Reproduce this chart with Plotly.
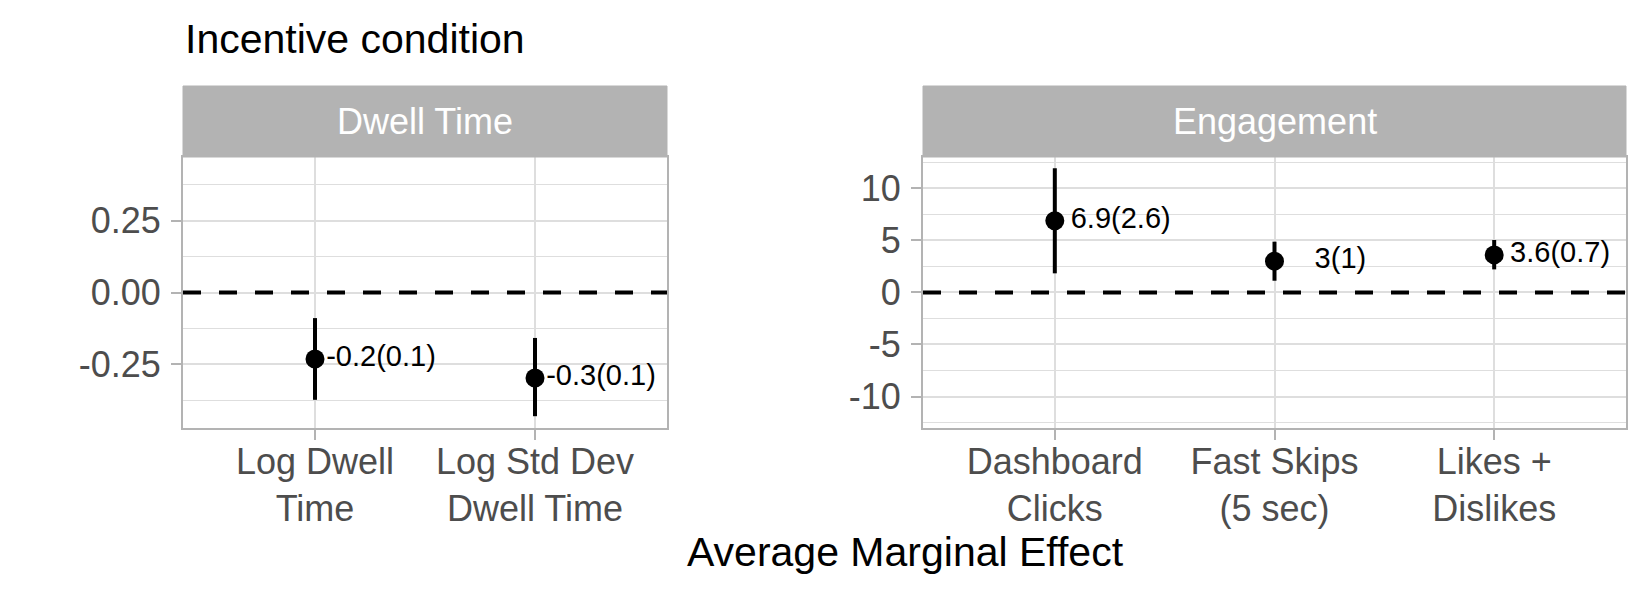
import plotly.graph_objects as go

# ── datos ─────────────────────────────────────────────────────────────────────
dwell_cats = ["Log Dwell<br>Time", "Log Std Dev<br>Dwell Time"]
dwell_est = [-0.231, -0.297]
dwell_lo = [-0.373, -0.430]
dwell_hi = [-0.089, -0.158]
dwell_lab = ["-0.2(0.1)", "-0.3(0.1)"]

eng_cats = ["Dashboard<br>Clicks", "Fast Skips<br>(5 sec)", "Likes +<br>Dislikes"]
eng_est = [6.88, 3.0, 3.6]
eng_lo = [1.83, 1.12, 2.21]
eng_hi = [11.92, 4.87, 5.03]
eng_lab = ["6.9(2.6)", "3(1)", "3.6(0.7)"]

dwell_ticks = [-0.25, 0.0, 0.25]
dwell_ticktext = ["-0.25", "0.00", "0.25"]
eng_ticks = [-10, -5, 0, 5, 10]
eng_ticktext = ["-10", "-5", "0", "5", "10"]

# ── estilo ────────────────────────────────────────────────────────────────────
# la página deja 8px de margen en el body, así que todo se corre 8px
OFF = 8
W, H = 1650 - OFF, 600 - OFF
FONT = "Liberation Sans"
GRID = "#DEDEDE"
BORDE = "#B3B3B3"
TXT = "#4D4D4D"
NUDGE = 0.3


def px_x(p):
    return (p - OFF) / W


def px_y(p):
    return 1 - (p - OFF) / H


paneles = [
    dict(cats=dwell_cats, est=dwell_est, lo=dwell_lo, hi=dwell_hi, lab=dwell_lab,
         ticks=dwell_ticks, ticktext=dwell_ticktext, yrange=[-0.471, 0.471], minor=0.125,
         dom=[183, 667], title="Dwell Time"),
    dict(cats=eng_cats, est=eng_est, lo=eng_lo, hi=eng_hi, lab=eng_lab,
         ticks=eng_ticks, ticktext=eng_ticktext, yrange=[-13.02, 13.0], minor=2.5,
         dom=[923, 1626], title="Engagement"),
]

fig = go.Figure()
ydom = [px_y(428), px_y(157)]

for i, p in enumerate(paneles, start=1):
    xa = "x" if i == 1 else f"x{i}"
    ya = "y" if i == 1 else f"y{i}"
    pos = list(range(1, len(p["cats"]) + 1))
    err_plus = [h - e for h, e in zip(p["hi"], p["est"])]
    err_minus = [e - l for e, l in zip(p["est"], p["lo"])]

    fig.add_trace(go.Scatter(
        x=pos, y=p["est"], mode="markers", xaxis=xa, yaxis=ya,
        marker=dict(color="black", size=19),
        error_y=dict(type="data", symmetric=False, array=err_plus, arrayminus=err_minus,
                     color="black", thickness=4, width=0),
        showlegend=False, hoverinfo="skip",
    ))
    fig.add_trace(go.Scatter(
        x=[q + NUDGE for q in pos], y=p["est"], mode="text", text=p["lab"],
        textposition="middle center", textfont=dict(family=FONT, size=29, color="black"),
        xaxis=xa, yaxis=ya, showlegend=False, hoverinfo="skip",
    ))

    sfx = "" if i == 1 else str(i)
    fig.update_layout(**{
        f"xaxis{sfx}": dict(
            domain=[px_x(p["dom"][0]), px_x(p["dom"][1])], anchor=ya,
            range=[0.4, len(pos) + 0.6], tickvals=pos, ticktext=p["cats"],
            showgrid=True, gridcolor=GRID, gridwidth=1.5, zeroline=False,
            showline=True, linecolor=BORDE, linewidth=2, mirror=True,
            ticks="outside", ticklen=10, tickwidth=1.5, tickcolor=BORDE,
            ticklabelstandoff=-9,
            tickfont=dict(family=FONT, size=36, color=TXT), automargin=False,
        ),
        f"yaxis{sfx}": dict(
            domain=ydom, anchor=xa, range=p["yrange"],
            tickvals=p["ticks"], ticktext=p["ticktext"],
            showgrid=True, gridcolor=GRID, gridwidth=1.5, zeroline=False,
            minor=dict(dtick=p["minor"], tick0=0, showgrid=True, gridcolor=GRID,
                       gridwidth=0.8, ticks=""),
            showline=True, linecolor=BORDE, linewidth=2, mirror=True,
            ticks="outside", ticklen=10, tickwidth=1.5, tickcolor=BORDE,
            ticklabelstandoff=3,
            tickfont=dict(family=FONT, size=36, color=TXT), automargin=False,
        ),
    })

    # línea de referencia en cero
    fig.add_shape(type="line", xref=f"{xa} domain", yref=ya, x0=0, x1=1, y0=0, y1=0,
                  line=dict(color="black", width=4, dash="18px,18px"))
    # franja del panel
    fig.add_shape(type="rect", xref="paper", yref="paper",
                  x0=px_x(p["dom"][0]), x1=px_x(p["dom"][1]), y0=px_y(157), y1=px_y(86),
                  fillcolor=BORDE, line=dict(color=BORDE, width=1), layer="above")
    fig.add_annotation(text=p["title"], xref="paper", yref="paper",
                       x=px_x((p["dom"][0] + p["dom"][1]) / 2), y=px_y(122),
                       xanchor="center", yanchor="middle", showarrow=False,
                       font=dict(family=FONT, size=36, color="white"))

fig.add_annotation(text="Incentive condition", xref="paper", yref="paper",
                   x=px_x(183), y=px_y(39), xanchor="left", yanchor="middle",
                   showarrow=False, font=dict(family=FONT, size=41, color="black"))
fig.add_annotation(text="Average Marginal Effect", xref="paper", yref="paper",
                   x=px_x(905), y=px_y(552), xanchor="center", yanchor="middle",
                   showarrow=False, font=dict(family=FONT, size=41, color="black"))

fig.update_layout(
    width=W, height=H, margin=dict(l=0, r=0, t=0, b=0),
    paper_bgcolor="white", plot_bgcolor="white",
    font=dict(family=FONT),
)

fig.write_html("out.html")
